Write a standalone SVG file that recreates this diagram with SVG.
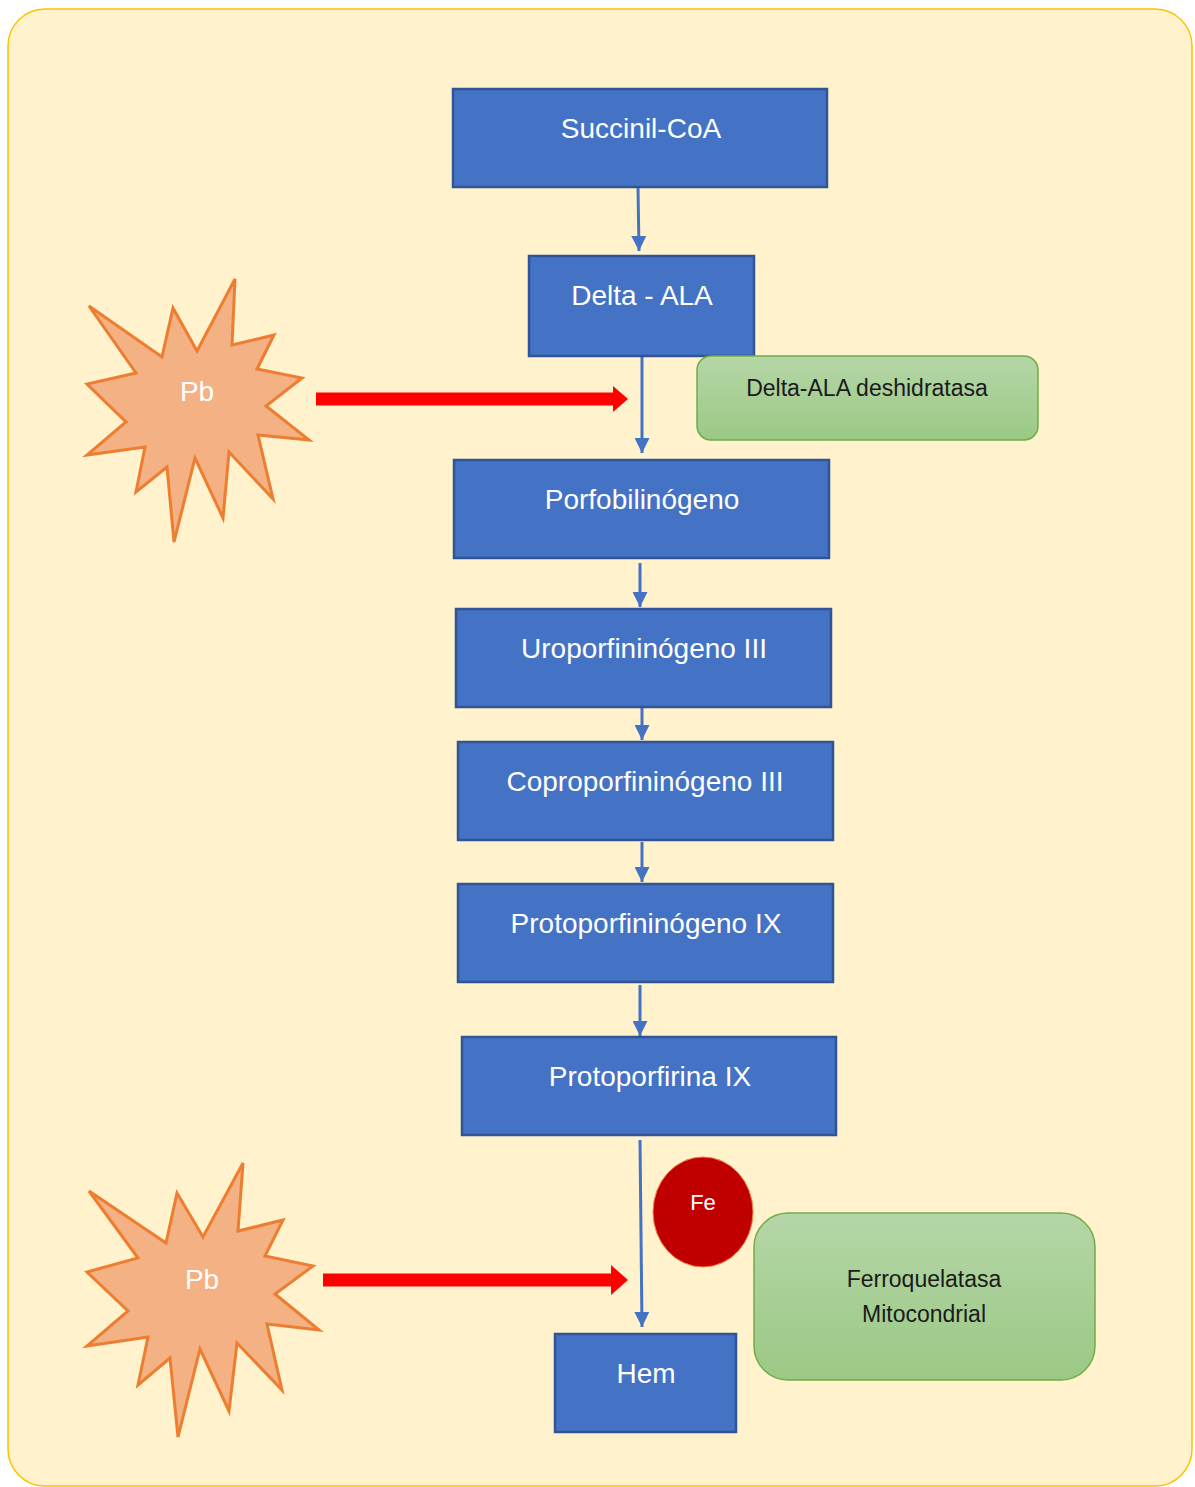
<svg xmlns="http://www.w3.org/2000/svg" width="1195" height="1487" viewBox="0 0 1195 1487">
  <style>
    .step rect { fill: #4472C4; stroke: #2F5597; stroke-width: 2.5; }
    .step text { fill: #FFFFFF; font-family: "Liberation Sans", Arial, sans-serif; font-size: 28px; text-anchor: middle; }
    .enzyme rect { fill: url(#greenFill); stroke: #70AD47; stroke-width: 1.5; }
    .enzyme text { fill: #1A1A1A; font-family: "Liberation Sans", Arial, sans-serif; font-size: 23px; text-anchor: middle; }
    .burst polygon { fill: #F4B183; stroke: #ED7D31; stroke-width: 3; stroke-linejoin: miter; }
    .burst text { fill: #FFFFFF; font-family: "Liberation Sans", Arial, sans-serif; font-size: 28px; text-anchor: middle; }
    .flow { stroke: #4472C4; stroke-width: 3; fill: none; marker-end: url(#blueHead); }
    .block { stroke: #FF0000; stroke-width: 13; fill: none; }
  </style>
  <defs>
    <linearGradient id="greenFill" x1="0" y1="0" x2="0" y2="1">
      <stop offset="0" stop-color="#B5D6A7"/>
      <stop offset="1" stop-color="#9BC985"/>
    </linearGradient>
    <marker id="blueHead" markerWidth="5" markerHeight="5" refX="5" refY="2.5" orient="auto" markerUnits="strokeWidth">
      <path d="M0,0 L5,2.5 L0,5 Z" fill="#4472C4"/>
    </marker>
  </defs>

  <!-- page background -->
  <rect x="8" y="9" width="1184" height="1477" rx="37" ry="37" fill="#FFF2CC" stroke="#FFC000" stroke-width="1.5"/>

  <!-- connectors -->
  <g id="connectors">
    <line class="flow" x1="638" y1="187" x2="639" y2="251"/>
    <line class="flow" x1="642" y1="357" x2="642" y2="453"/>
    <line class="flow" x1="640" y1="563" x2="640" y2="607"/>
    <line class="flow" x1="642" y1="708" x2="642" y2="740"/>
    <line class="flow" x1="642" y1="842" x2="642" y2="882"/>
    <line class="flow" x1="640" y1="985" x2="640" y2="1036"/>
    <line class="flow" x1="640" y1="1140" x2="642" y2="1327"/>
    <!-- inhibition arrows -->
    <line class="block" x1="316" y1="399" x2="614" y2="399"/>
    <polygon points="613,386 628,399 613,412" fill="#FF0000"/>
    <line class="block" x1="323" y1="1280" x2="612" y2="1280"/>
    <polygon points="611,1265 628,1280 611,1295" fill="#FF0000"/>
  </g>

  <!-- metabolic steps -->
  <g id="succinil-coa" class="step">
    <rect x="453" y="89" width="374" height="98"/>
    <text x="641" y="138">Succinil-CoA</text>
  </g>
  <g id="delta-ala" class="step">
    <rect x="529" y="256" width="225" height="100"/>
    <text x="642" y="305">Delta - ALA</text>
  </g>
  <g id="porfobilinogeno" class="step">
    <rect x="454" y="460" width="375" height="98"/>
    <text x="642" y="509">Porfobilinógeno</text>
  </g>
  <g id="uroporfininogeno" class="step">
    <rect x="456" y="609" width="375" height="98"/>
    <text x="644" y="658">Uroporfininógeno III</text>
  </g>
  <g id="coproporfininogeno" class="step">
    <rect x="458" y="742" width="375" height="98"/>
    <text x="645" y="791">Coproporfininógeno III</text>
  </g>
  <g id="protoporfininogeno" class="step">
    <rect x="458" y="884" width="375" height="98"/>
    <text x="646" y="933">Protoporfininógeno IX</text>
  </g>
  <g id="protoporfirina" class="step">
    <rect x="462" y="1037" width="374" height="98"/>
    <text x="650" y="1086">Protoporfirina IX</text>
  </g>
  <g id="hem" class="step">
    <rect x="555" y="1334" width="181" height="98"/>
    <text x="646" y="1383">Hem</text>
  </g>

  <!-- enzymes -->
  <g id="ala-deshidratasa" class="enzyme">
    <rect x="697" y="356" width="341" height="84" rx="14" ry="14"/>
    <text x="867" y="396">Delta-ALA deshidratasa</text>
  </g>
  <g id="ferroquelatasa" class="enzyme">
    <rect x="754" y="1213" width="341" height="167" rx="34" ry="34"/>
    <text x="924" y="1287">Ferroquelatasa</text>
    <text x="924" y="1322">Mitocondrial</text>
  </g>

  <!-- iron -->
  <g id="fe">
    <ellipse cx="703" cy="1212" rx="50" ry="55" fill="#C00000" stroke="#F08040" stroke-width="1"/>
    <text x="703" y="1210" fill="#FFFFFF" font-family="Liberation Sans, Arial, sans-serif" font-size="22" text-anchor="middle">Fe</text>
  </g>

  <!-- lead -->
  <g id="pb-1" class="burst">
    <polygon points="89,306 162,357 173,308 197,351 235,279 232,345 274,335 257,369 302,378 266,406 309,440 258,435 273,499 229,452 223,518 195,458 174,542 167,467 136,492 145,447 87,455 126,422 87,384 136,373"/>
    <text x="197" y="401">Pb</text>
  </g>
  <g id="pb-2" class="burst">
    <polygon points="89,1191 166,1243 177,1193 203,1237 243,1163 238,1231 283,1220 265,1256 313,1266 275,1294 319,1330 267,1324 282,1390 237,1343 229,1411 200,1349 178,1437 170,1358 138,1385 148,1337 87,1346 128,1311 87,1272 138,1258"/>
    <text x="202" y="1289">Pb</text>
  </g>
</svg>
